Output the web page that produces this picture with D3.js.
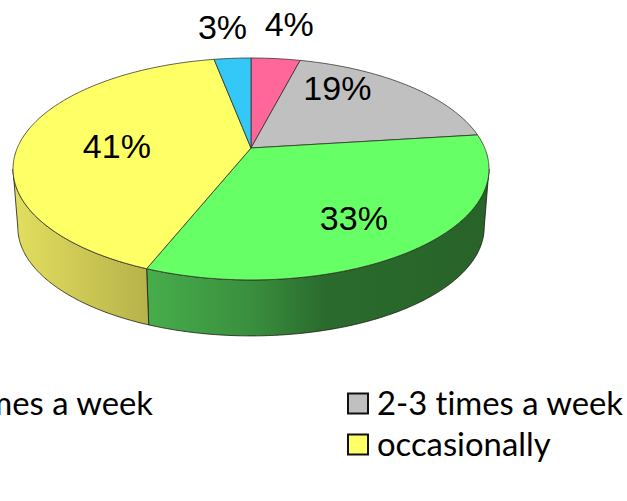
<!DOCTYPE html>
<html>
<head>
<meta charset="utf-8">
<script src="https://cdn.jsdelivr.net/npm/d3@7"></script>
<style>
  html, body { margin: 0; padding: 0; background: #fff; overflow: hidden; }
  svg { display: block; }
</style>
</head>
<body>
<div id="chart"></div>
<script>
const width = 627;
const height = 501;

// slices, clockwise from twelve o'clock
const values = [4, 19, 33, 41, 3];
const sliceColors = ['#ff6699', '#c0c0c0', '#66ff66', '#ffff66', '#33c8f8'];

// side wall shading, one ramp per visible slice
const wallStops = {
  2: [[155, '#46ab4a'], [250, '#3a8f3e'], [325, '#2a6b2d'], [490, '#286329']],
  3: [[15, '#e2de5e'], [155, '#b5b04a']]
};

const legendLabels = ['4-6 times a week', '2-3 times a week', 'occasionally'];
const legendColors = [null, '#c0c0c0', '#ffff66'];

// pie centre on screen and perspective of the tilted disc
const cx = 251, cy = 148;
const radiusX = 233.7, radiusY = 107, tilt = 0.189;
const wallShrink = 0.98, wallDrop = 58.6;

// map an angle and radius on the disc to the screen
function project(angle, r) {
  const u = Math.sin(angle) * r;
  const v = -Math.cos(angle) * r;
  const d = 1 - tilt * v;
  return [cx + radiusX * u / d, cy + radiusY * v / d];
}
function projectBottom(angle) {
  const p = project(angle, 1);
  return [cx + (p[0] - cx) * wallShrink, cy + (p[1] - cy) * wallShrink + wallDrop];
}

const svg = d3.select('#chart')
  .append('svg')
  .attr('width', width)
  .attr('height', height);

const defs = svg.append('defs');
const line = d3.line();
const arcs = d3.pie().sort(null).value(d => d)(values);

function angleSteps(a0, a1) {
  const n = Math.max(2, Math.ceil((a1 - a0) / 0.01));
  return d3.range(n + 1).map(i => a0 + (a1 - a0) * i / n);
}

// the wall shows between the two silhouette tangents of the ellipse
const wallStart = Math.acos(-tilt);
const wallEnd = 2 * Math.PI - wallStart;

Object.keys(wallStops).forEach(function(i) {
  const grad = defs.append('linearGradient')
    .attr('id', 'wall' + i)
    .attr('gradientUnits', 'userSpaceOnUse')
    .attr('x1', wallStops[i][0][0]).attr('x2', wallStops[i][wallStops[i].length - 1][0])
    .attr('y1', 0).attr('y2', 0);
  const x0 = wallStops[i][0][0];
  const span = wallStops[i][wallStops[i].length - 1][0] - x0;
  wallStops[i].forEach(function(s) {
    grad.append('stop').attr('offset', (s[0] - x0) / span).attr('stop-color', s[1]);
  });
});

// side walls first, top face goes over them
svg.append('g').selectAll('path')
  .data(arcs.filter(d => d.endAngle > wallStart && d.startAngle < wallEnd))
  .enter()
  .append('path')
  .attr('d', function(d) {
    const steps = angleSteps(Math.max(d.startAngle, wallStart), Math.min(d.endAngle, wallEnd));
    const top = steps.map(a => project(a, 1));
    const bottom = steps.slice().reverse().map(projectBottom);
    return line(top.concat(bottom)) + 'Z';
  })
  .attr('fill', d => 'url(#wall' + d.index + ')')
  .attr('stroke', '#1a1a10')
  .attr('stroke-width', 0.8);

// top face
svg.append('g').selectAll('path')
  .data(arcs)
  .enter()
  .append('path')
  .attr('d', function(d) {
    const rim = angleSteps(d.startAngle, d.endAngle).map(a => project(a, 1));
    return line([[cx, cy]].concat(rim)) + 'Z';
  })
  .attr('fill', d => sliceColors[d.index])
  .attr('stroke', '#33332a')
  .attr('stroke-width', 0.8)
  .attr('stroke-linejoin', 'round');

// percent labels: radius on the disc plus a small nudge in pixels
const labelPlacement = [
  { r: 1.2, dx: 9.5, dy: -20 },
  { r: 0.62, dx: -14.5, dy: -19 },
  { r: 0.62, dx: 5, dy: 12 },
  { r: 0.6, dx: 4, dy: 4 },
  { r: 1.2, dx: -7, dy: -17 }
];

svg.append('g').selectAll('text')
  .data(arcs)
  .enter()
  .append('text')
  .attr('transform', function(d) {
    const mid = (d.startAngle + d.endAngle) / 2;
    const place = labelPlacement[d.index];
    const p = project(mid, place.r);
    return 'translate(' + (p[0] + place.dx) + ',' + (p[1] + place.dy) + ')';
  })
  .attr('text-anchor', 'middle')
  .attr('dy', '.35em')
  .style('font-family', '"Liberation Sans", Arial, sans-serif')
  .style('font-size', '34px')
  .style('fill', '#000')
  .text(d => d.value + '%');

// legend, runs past the left edge of the page
const legendFont = '"Lato", sans-serif';
const legendX = [153, 377, 377];
const legendY = [415, 415, 456];

legendLabels.forEach(function(label, i) {
  const end = i === 0;
  svg.append('text')
    .attr('x', legendX[i])
    .attr('y', legendY[i])
    .attr('text-anchor', end ? 'end' : 'start')
    .style('font-family', legendFont)
    .style('font-size', '32.8px')
    .style('font-variant-ligatures', 'none')
    .style('fill', '#000')
    .text(label);
  if (legendColors[i]) {
    svg.append('rect')
      .attr('x', legendX[i] - 29)
      .attr('y', legendY[i] - 21.5)
      .attr('width', 20)
      .attr('height', 20)
      .attr('fill', legendColors[i])
      .attr('stroke', '#111')
      .attr('stroke-width', 2);
  }
});
</script>
</body>
</html>
